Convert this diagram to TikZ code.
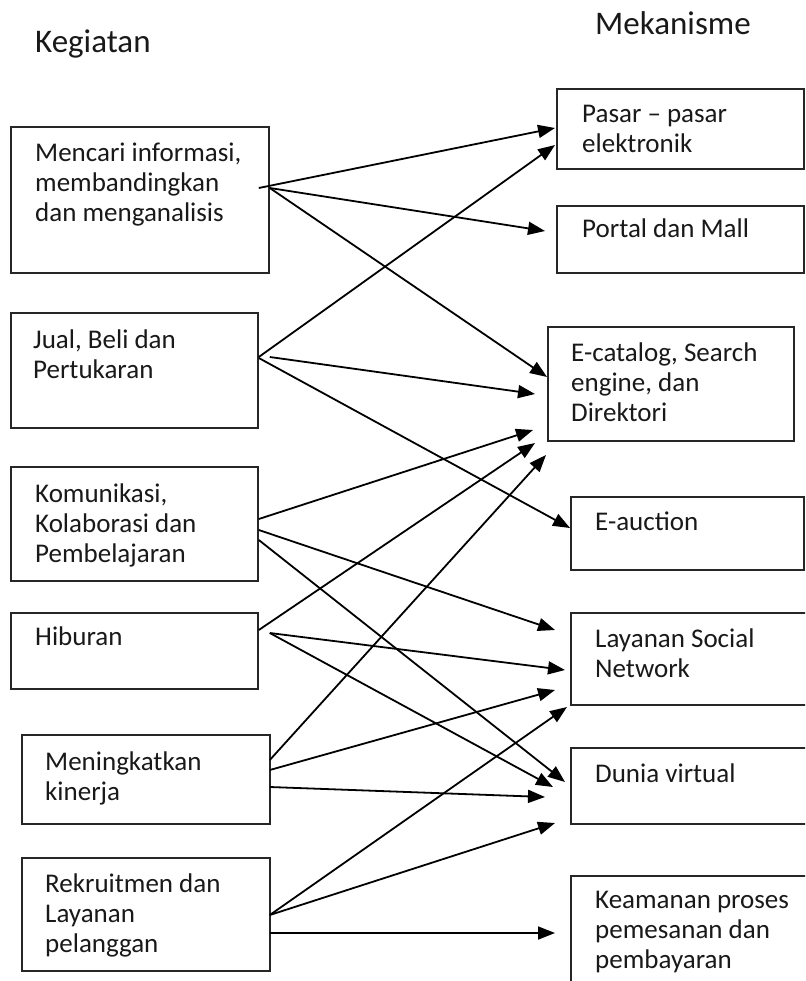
\documentclass[tikz,border=0pt]{standalone}
\usepackage{fontspec}
\setmainfont{Carlito}
\usetikzlibrary{arrows.meta,calc}
\begin{document}
\begin{tikzpicture}[x=1pt,y=-1pt,
  box/.style={draw=black!85,line width=1.8pt,rectangle,inner sep=0pt,anchor=north west},
  txt/.style={anchor=base west,inner sep=0pt,align=left,font=\fontsize{27pt}{30pt}\selectfont,text=black!90},
  ttl/.style={anchor=base west,inner sep=0pt,font=\fontsize{33pt}{36pt}\selectfont,text=black!90},
  arr/.style={line width=1.8pt,-{Triangle[length=17pt,width=13pt]}}]
\useasboundingbox (0,0) rectangle (805,981);
\clip (0,0) rectangle (805,981);
\fill[white] (0,0) rectangle (805,981);
% titles
\node[ttl] (tk) at (35,53) {Kegiatan};
\node[ttl] (tm) at (595,35) {Mekanisme};
% left boxes
\node[box,minimum width=258pt,minimum height=146pt] (L1) at (10,126) {};
\node[box,minimum width=247pt,minimum height=115pt] (L2) at (10,312) {};
\node[box,minimum width=247pt,minimum height=114pt] (L3) at (10,466) {};
\node[box,minimum width=247pt,minimum height=76pt] (L4) at (10,612) {};
\node[box,minimum width=248pt,minimum height=89pt] (L5) at (21,734) {};
\node[box,minimum width=248pt,minimum height=113pt] (L6) at (21,857) {};
% right boxes
\node[box,minimum width=247pt,minimum height=80pt] (R1) at (556,88) {};
\node[box,minimum width=247pt,minimum height=67pt] (R2) at (556,205) {};
\node[box,minimum width=246pt,minimum height=114pt] (R3) at (547,326) {};
\node[box,minimum width=233pt,minimum height=73pt] (R4) at (570,496) {};
\node[box,minimum width=245pt,minimum height=92pt] (R5) at (570,612) {};
\node[box,minimum width=245pt,minimum height=76pt] (R6) at (570,747) {};
\node[box,minimum width=245pt,minimum height=130pt] (R7) at (570,875) {};
% texts (anchor = baseline of last line)
\node[txt] (L1t) at ($(L1.north west)+(25,96)$) {Mencari informasi,\\membandingkan\\dan menganalisis};
\node[txt] (L2t) at ($(L2.north west)+(23,66)$) {Jual, Beli dan\\Pertukaran};
\node[txt] (L3t) at ($(L3.north west)+(25,96)$) {Komunikasi,\\Kolaborasi dan\\Pembelajaran};
\node[txt] (L4t) at ($(L4.north west)+(25,33)$) {Hiburan};
\node[txt] (L5t) at ($(L5.north west)+(24,66)$) {Meningkatkan\\kinerja};
\node[txt] (L6t) at ($(L6.north west)+(24,95)$) {Rekruitmen dan\\Layanan\\pelanggan};
\node[txt] (R1t) at ($(R1.north west)+(26,65)$) {Pasar -- pasar\\elektronik};
\node[txt] (R2t) at ($(R2.north west)+(26,33)$) {Portal dan Mall};
\node[txt] (R3t) at ($(R3.north west)+(24,95)$) {E-catalog, Search\\engine, dan\\Direktori};
\node[txt] (R4t) at ($(R4.north west)+(25,34)$) {E-auction};
\node[txt] (R5t) at ($(R5.north west)+(25,65)$) {Layanan Social\\Network};
\node[txt] (R6t) at ($(R6.north west)+(25,35)$) {Dunia virtual};
\node[txt] (R7t) at ($(R7.north west)+(25,93)$) {Keamanan proses\\pemesanan dan\\pembayaran};
% arrows
\draw[arr] ($(L1.north east)+(-11,62)$) -- ($(R1.north west)+(-1,40)$);
\draw[arr] ($(L1.north east)+(0,62)$) -- ($(R2.north west)+(-11,26)$);
\draw[arr] ($(L1.north east)+(0,62)$) -- ($(R3.north west)+(0,51)$);
\draw[arr] ($(L2.north east)+(0,45)$) -- ($(R1.north west)+(-1,57)$);
\draw[arr] ($(L2.north east)+(11,45)$) -- ($(R3.north west)+(-12,68)$);
\draw[arr] ($(L2.north east)+(0,46)$) -- ($(R4.north west)+(0,32)$);
\draw[arr] ($(L3.north east)+(0,53)$) -- ($(R3.north west)+(-14,104)$);
\draw[arr] ($(L3.north east)+(0,64)$) -- ($(R5.north west)+(-15,18)$);
\draw[arr] ($(L3.north east)+(0,74)$) -- ($(R6.north west)+(-5,35)$);
\draw[arr] ($(L4.north east)+(0,18)$) -- ($(R3.north west)+(-12,117)$);
\draw[arr] ($(L4.north east)+(11,21)$) -- ($(R5.north west)+(-5,58)$);
\draw[arr] ($(L4.north east)+(11,21)$) -- ($(R6.north west)+(-17,40)$);
\draw[arr] ($(L5.north east)+(-1,26)$) -- ($(R3.north west)+(-1,129)$);
\draw[arr] ($(L5.north east)+(-1,36)$) -- ($(R5.north west)+(-15,78)$);
\draw[arr] ($(L5.north east)+(-1,53)$) -- ($(R6.north west)+(-25,50)$);
\draw[arr] ($(L6.north east)+(-1,58)$) -- ($(R5.north west)+(-3,95)$);
\draw[arr] ($(L6.north east)+(-1,58)$) -- ($(R6.north west)+(-15,76)$);
\draw[arr] ($(L6.north east)+(-1,76)$) -- ($(R7.north west)+(-15,58)$);
\end{tikzpicture}
\end{document}
